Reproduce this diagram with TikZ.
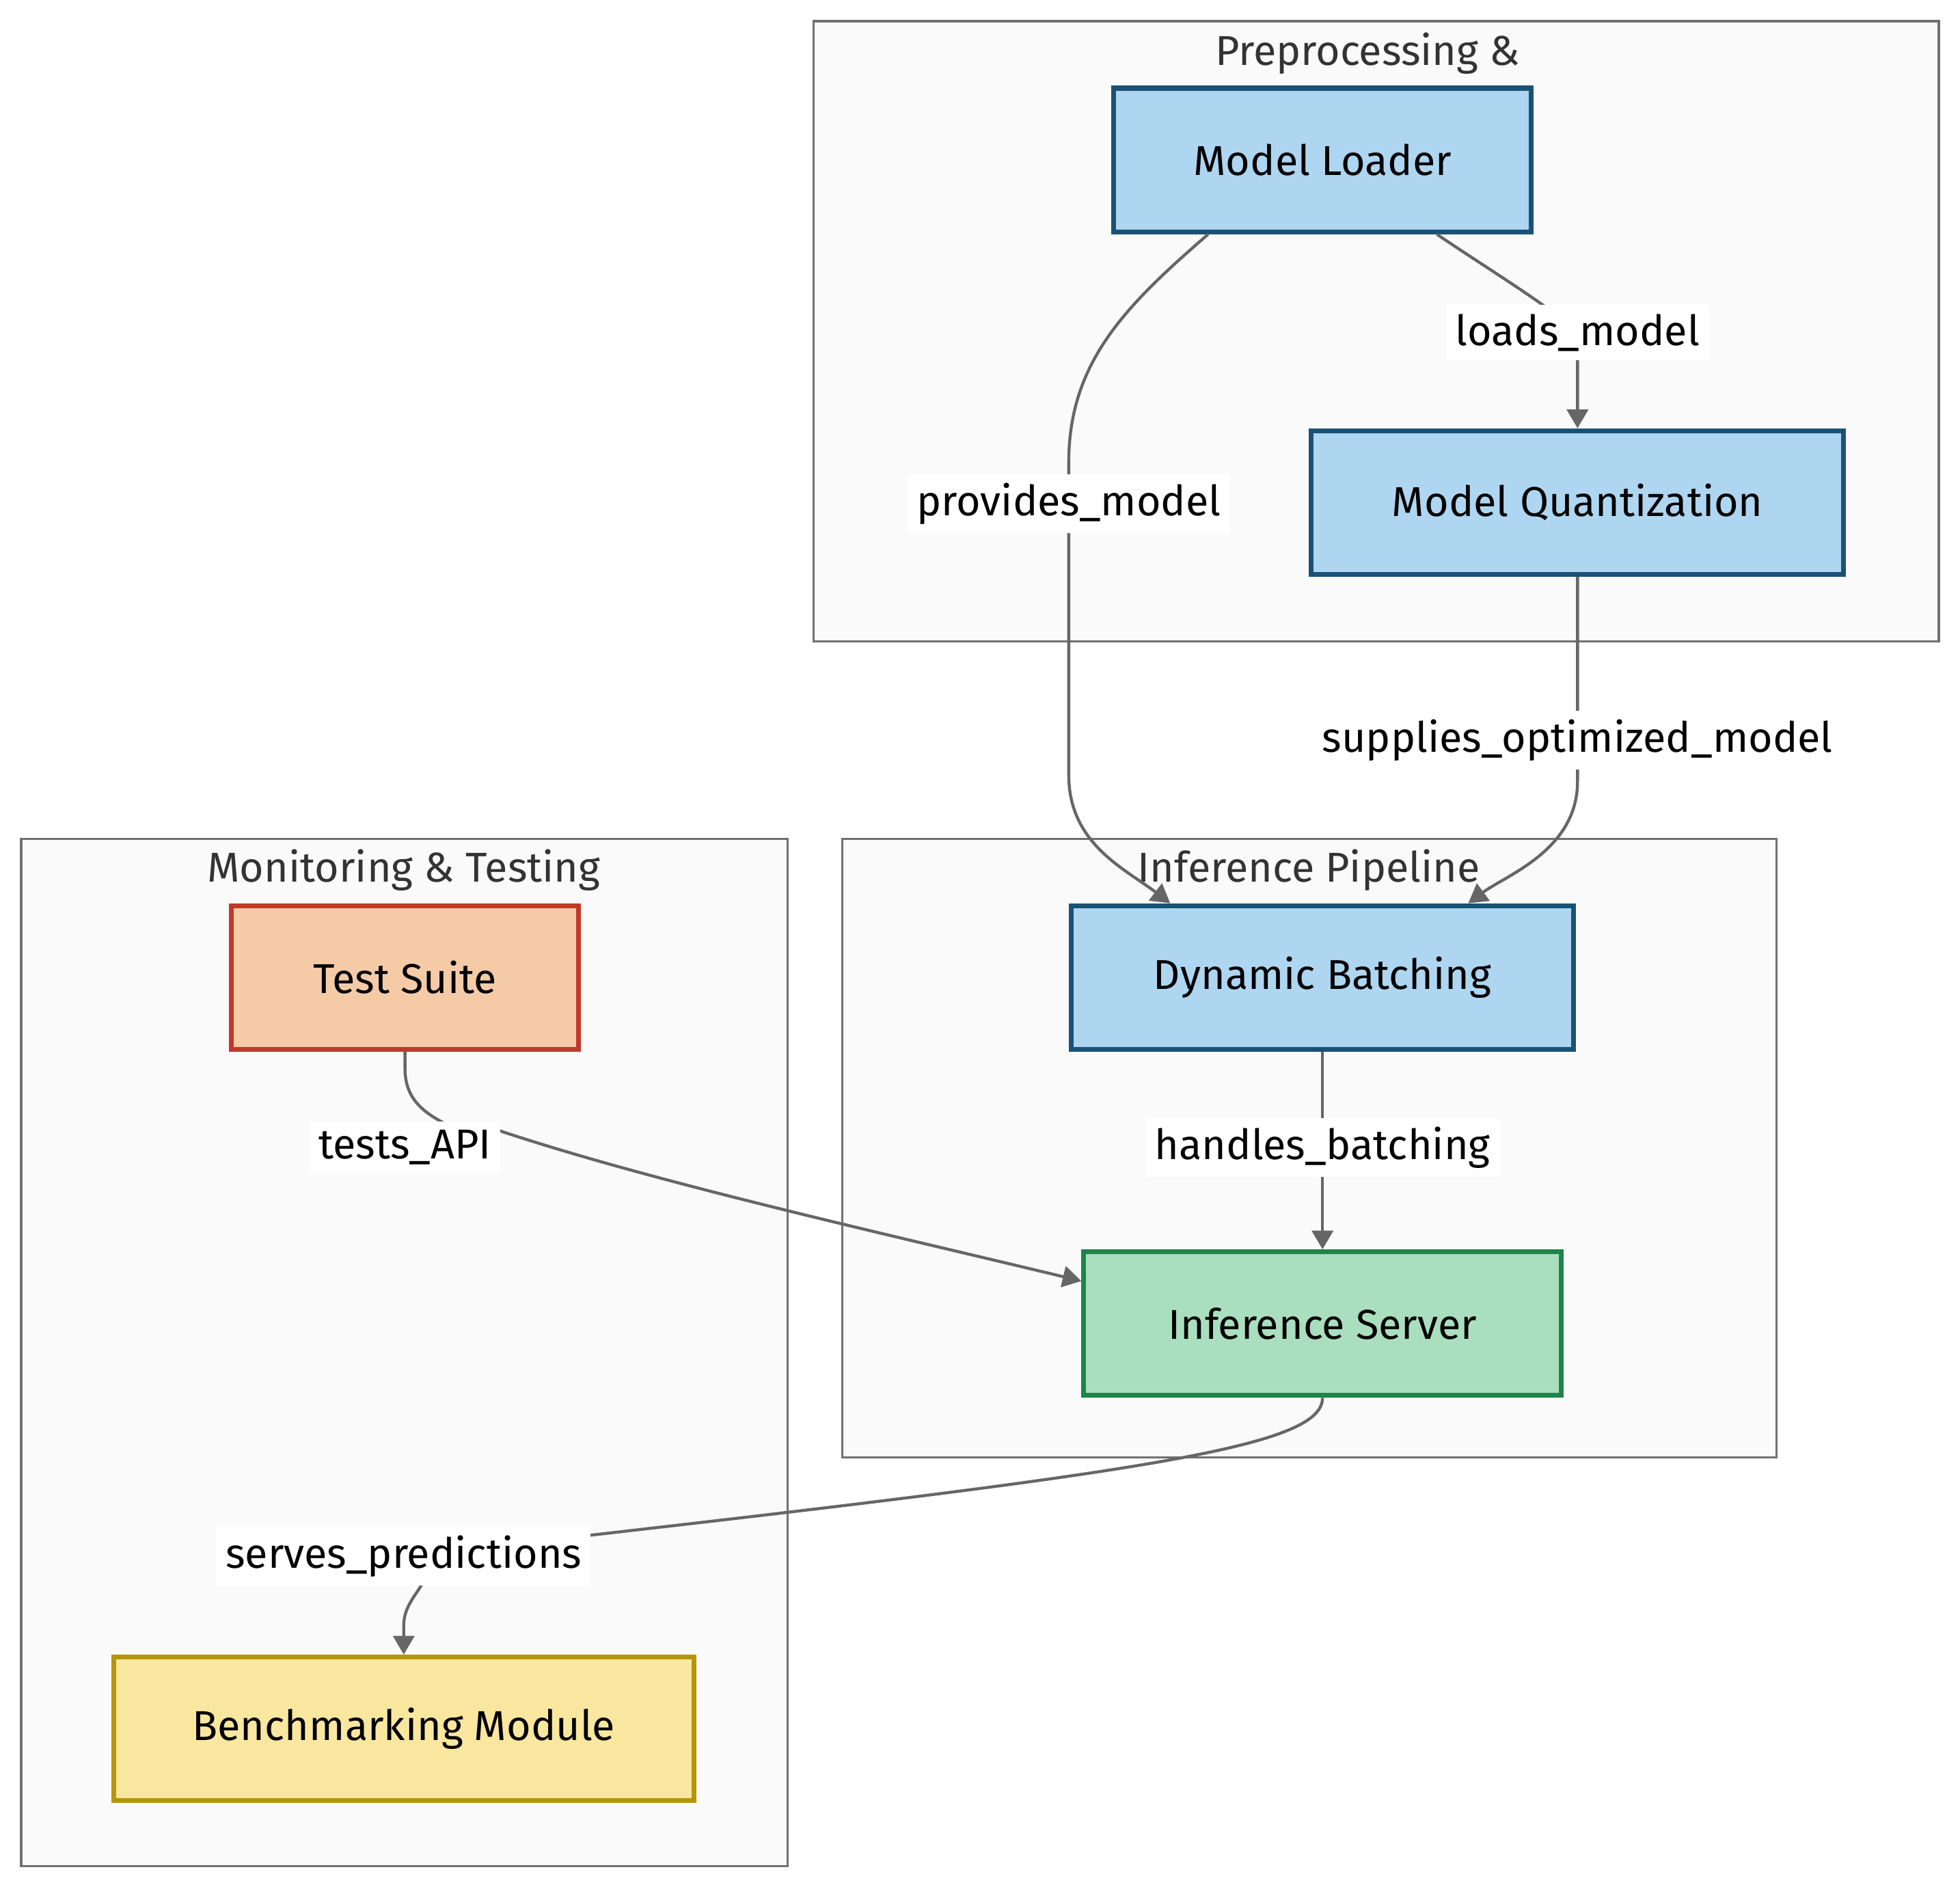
\documentclass[tikz,border=0pt]{standalone}
\usepackage{fontspec}
\setmainfont{Fira Sans}
\usepackage{xcolor}
\usepackage{tikz}
\usetikzlibrary{positioning}
\usetikzlibrary{arrows.meta}

\definecolor{prepfill}{HTML}{AED6F1}
\definecolor{prepline}{HTML}{1A5276}
\definecolor{testfill}{HTML}{F5CBA7}
\definecolor{testline}{HTML}{C0392B}
\definecolor{benchfill}{HTML}{F9E79F}
\definecolor{benchline}{HTML}{B7950B}
\definecolor{servefill}{HTML}{A9DFBF}
\definecolor{serveline}{HTML}{1E8449}
\definecolor{clusterfill}{HTML}{FAFAFA}
\definecolor{clusterline}{HTML}{707070}
\definecolor{titlegray}{HTML}{333333}
\definecolor{edgegray}{HTML}{666666}

\begin{document}
\begin{tikzpicture}[
      x=0.02cm, y=-0.02cm,
      font=\fontsize{19}{22}\selectfont,
      box/.style={draw,line width=2.2pt,minimum height=2.3cm,inner sep=0pt,align=center},
      prepbox/.style={box,fill=prepfill,draw=prepline},
      testbox/.style={box,fill=testfill,draw=testline},
      benchbox/.style={box,fill=benchfill,draw=benchline},
      servebox/.style={box,fill=servefill,draw=serveline},
      cluster/.style={draw=clusterline,fill=clusterfill,line width=1pt},
      ctitle/.style={text=titlegray,inner sep=0pt},
      elabel/.style={fill=white,inner xsep=4pt,inner ysep=4pt,text=black},
      link/.style={draw=edgegray,line width=1.35pt,-{Triangle[length=0.3cm,width=0.34cm]}}
      ]

      \fill[white] (0,0) rectangle (1568,1511);
      \useasboundingbox (0,0) rectangle (1568,1511);

      % clusters
      \draw[cluster] (651,17) rectangle (1551,513);
      \draw[cluster] (17,671) rectangle (630,1493);
      \draw[cluster] (674,671) rectangle (1421,1166);
      \node[ctitle] (prep) at (1094,43) {Preprocessing \&};
      \node[ctitle] (monitor) at (323,696) {Monitoring \& Testing};
      \node[ctitle] (pipe) at (1047,696) {Inference Pipeline};

      \node[prepbox, minimum width=6.68cm] (loader) at (1058,128) {Model Loader};
      \node[prepbox, minimum width=8.52cm] (quant) at (1262,402) {Model Quantization};
      \node[prepbox, minimum width=8.04cm] (batch) at (1058,782) {Dynamic Batching};
      \node[servebox, minimum width=7.64cm, below=3.16cm of batch] (server) {Inference Server};
      \node[testbox, minimum width=5.56cm] (tests) at (324,782) {Test Suite};
      \node[benchbox, minimum width=9.28cm] (bench) at (323,1383) {Benchmarking Module};

      \coordinate (lprov) at (855,403);
      \coordinate (lload) at (1262,266);
      \coordinate (lsupp) at (1262,592);
      \coordinate (lhand) at (1058,918);
      \coordinate (ltest) at (324,918);
      \coordinate (lserv) at (323,1245);

      \draw[link] (loader.213) .. controls (900,245) and (855,290) .. (855,370)
        -- (855,620) .. controls (855,675) and (900,695) .. (batch.154);
      \draw[link] (loader.-33) .. controls (1190,215) and (1240,245) .. (lload)
        .. controls (1262,290) and (1262,300) .. (quant.north);
      \draw[link] (quant.south) -- (1262,625) .. controls (1262,680) and (1205,700) .. (batch.27);
      \path (batch) edge[link] (server);
      \draw[link] (tests.south) -- (324,855) .. controls (324,880) and (340,892) .. (365,903)
        -- (ltest) -- (395,903) .. controls (520,945) and (700,985) .. (server.170);
      \draw[link] (server.south) .. controls (1058,1160) and (900,1180) .. (lserv)
        .. controls (360,1262) and (323,1272) .. (323,1300) -- (bench.north);

      \node[elabel] at (lprov) {provides\_model};
      \node[elabel] at (lload) {loads\_model};
      \node[elabel] at (lsupp) {supplies\_optimized\_model};
      \node[elabel] at (lhand) {handles\_batching};
      \node[elabel] at (ltest) {tests\_API};
      \node[elabel] at (lserv) {serves\_predictions};
    \end{tikzpicture}
\end{document}
